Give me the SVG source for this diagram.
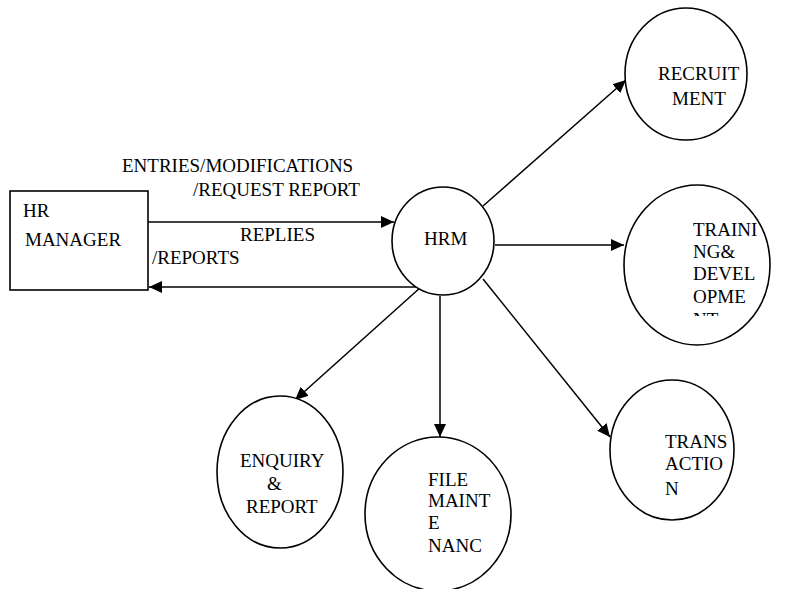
<svg xmlns="http://www.w3.org/2000/svg" width="788" height="589" viewBox="0 0 788 589">
<style>
.shape{fill:#fff;stroke:#000;stroke-width:1.6}
.t{font-family:"Liberation Serif","Times New Roman","DejaVu Serif",serif;font-size:19px;fill:#000}
.c{stroke:#000;stroke-width:1.5;fill:none}
</style>
<defs>
<marker id="ah" markerUnits="userSpaceOnUse" markerWidth="14" markerHeight="12" refX="13" refY="6" orient="auto">
<path d="M0,0 L13,6 L0,12 Z" fill="#000"/>
</marker>
<clipPath id="clipTrain"><rect x="600" y="180" width="188" height="136"/></clipPath>
</defs>
<rect width="788" height="589" fill="#fff"/>
<g id="connectors">
<line class="c" x1="148" y1="222" x2="394" y2="222" marker-end="url(#ah)"/>
<line class="c" x1="421" y1="287" x2="149" y2="287" marker-end="url(#ah)"/>
<line class="c" x1="483" y1="206" x2="626" y2="80" marker-end="url(#ah)"/>
<line class="c" x1="495" y1="245" x2="624" y2="245" marker-end="url(#ah)"/>
<line class="c" x1="483" y1="279" x2="610" y2="437" marker-end="url(#ah)"/>
<line class="c" x1="440" y1="296" x2="440" y2="437" marker-end="url(#ah)"/>
<line class="c" x1="421" y1="287" x2="295" y2="400" marker-end="url(#ah)"/>
</g>
<g id="labels">
<text class="t" x="122" y="172">ENTRIES/MODIFICATIONS</text>
<text class="t" x="193" y="196">/REQUEST REPORT</text>
<text class="t" x="240" y="241">REPLIES</text>
<text class="t" x="152" y="264">/REPORTS</text>
</g>
<g id="hr-manager">
<rect class="shape" x="10" y="191" width="138" height="99"/>
<text class="t" x="23" y="217">HR</text>
<text class="t" x="25" y="246">MANAGER</text>
</g>
<g id="hrm">
<ellipse class="shape" cx="443" cy="241" rx="51" ry="54"/>
<text class="t" x="424" y="245">HRM</text>
</g>
<g id="recruitment">
<ellipse class="shape" cx="686" cy="74" rx="61" ry="66"/>
<text class="t" x="658" y="80">RECRUIT</text>
<text class="t" x="672" y="105">MENT</text>
</g>
<g id="training">
<ellipse class="shape" cx="697" cy="265" rx="73" ry="80"/>
<g clip-path="url(#clipTrain)">
<text class="t" x="693" y="236">TRAINI</text>
<text class="t" x="693" y="258">NG&amp;</text>
<text class="t" x="693" y="280">DEVEL</text>
<text class="t" x="693" y="303">OPME</text>
<text class="t" x="693" y="326">NT</text>
</g>
</g>
<g id="transaction">
<ellipse class="shape" cx="672" cy="450" rx="62" ry="70"/>
<text class="t" x="665" y="448">TRANS</text>
<text class="t" x="665" y="470">ACTIO</text>
<text class="t" x="665" y="495">N</text>
</g>
<g id="file-maintenance">
<ellipse class="shape" cx="438" cy="514" rx="73" ry="77"/>
<text class="t" x="428" y="486">FILE</text>
<text class="t" x="428" y="507">MAINT</text>
<text class="t" x="428" y="529">E</text>
<text class="t" x="428" y="552">NANC</text>
</g>
<g id="enquiry">
<ellipse class="shape" cx="280" cy="472" rx="63" ry="76"/>
<text class="t" x="240" y="467">ENQUIRY</text>
<text class="t" x="267" y="490">&amp;</text>
<text class="t" x="246" y="513">REPORT</text>
</g>
</svg>
